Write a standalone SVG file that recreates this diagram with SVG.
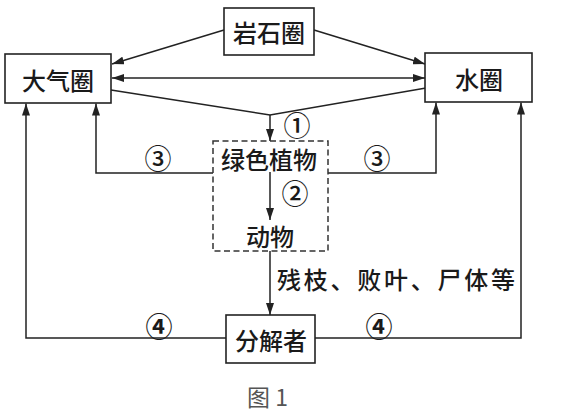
<svg xmlns="http://www.w3.org/2000/svg" width="572" height="415" viewBox="0 0 572 415">
<style>
.box{fill:#fff;stroke:#222;stroke-width:1.6}
.dash{fill:none;stroke:#333;stroke-width:1.5;stroke-dasharray:6 3.5}
.ln{fill:none;stroke:#222;stroke-width:1.5}
.t{font-family:"Noto Sans CJK SC","Noto Sans",sans-serif;font-size:24px;font-weight:500;fill:#1a1a1a;text-anchor:middle;dominant-baseline:central}
.n{font-family:"Noto Sans CJK SC","DejaVu Sans",sans-serif;font-size:27px;font-weight:500;fill:#1a1a1a;text-anchor:middle;dominant-baseline:central}
.nb{font-weight:bold}
.cap{font-family:"Noto Sans CJK SC","Liberation Serif",serif;font-size:23px;fill:#555}
</style>
<defs>
<marker id="ah" viewBox="0 0 12 8" refX="12" refY="4" markerWidth="12" markerHeight="8" markerUnits="userSpaceOnUse" orient="auto-start-reverse">
<path d="M0,0 L12,4 L0,8 z" fill="#222"/>
</marker>
</defs>
<rect width="572" height="415" fill="#fff"/>
<g id="connectors">
<line class="ln" x1="224" y1="30" x2="112" y2="64" marker-end="url(#ah)"/>
<line class="ln" x1="314" y1="30" x2="425" y2="64" marker-end="url(#ah)"/>
<line class="ln" x1="112" y1="78" x2="425" y2="78" marker-start="url(#ah)" marker-end="url(#ah)"/>
<polyline class="ln" points="111,90 270,115 426,88"/>
<line class="ln" x1="270" y1="115" x2="270" y2="141" marker-end="url(#ah)"/>
<line class="ln" x1="270" y1="172" x2="270" y2="220" marker-end="url(#ah)"/>
<line class="ln" x1="270" y1="251" x2="270" y2="315" marker-end="url(#ah)"/>
<polyline class="ln" points="213,173 96,173 96,103.5" marker-end="url(#ah)"/>
<polyline class="ln" points="328,173 436,173 436,102.5" marker-end="url(#ah)"/>
<polyline class="ln" points="226,338 26,338 26,103.5" marker-end="url(#ah)"/>
<polyline class="ln" points="315,338 521,338 521,102.5" marker-end="url(#ah)"/>
<text class="n" x="297" y="124">①</text>
<text class="n" x="295" y="192">②</text>
<text class="n" x="158" y="157">③</text>
<text class="n" x="377" y="157">③</text>
<text class="n nb" x="159" y="325">④</text>
<text class="n nb" x="379" y="325">④</text>
<text class="t" x="277" y="278" style="text-anchor:start" textLength="238" lengthAdjust="spacing">残枝、败叶、尸体等</text>
</g>
<g id="yanshiquan">
<rect class="box" x="224" y="8" width="90" height="47"/>
<text class="t" x="269" y="31">岩石圈</text>
</g>
<g id="daqiquan">
<rect class="box" x="5" y="54" width="106" height="49"/>
<text class="t" x="58" y="79">大气圈</text>
</g>
<g id="shuiquan">
<rect class="box" x="425" y="53" width="107" height="49"/>
<text class="t" x="479" y="78">水圈</text>
</g>
<g id="shengwu">
<rect class="dash" x="213" y="141" width="115" height="110"/>
<text class="t" x="269" y="158">绿色植物</text>
<text class="t" x="270" y="235">动物</text>
</g>
<g id="fenjiezhe">
<rect class="box" x="226" y="315" width="89" height="48"/>
<text class="t" x="271" y="339">分解者</text>
</g>
<g id="caption">
<text class="cap" x="247" y="406">图 1</text>
</g>
</svg>
